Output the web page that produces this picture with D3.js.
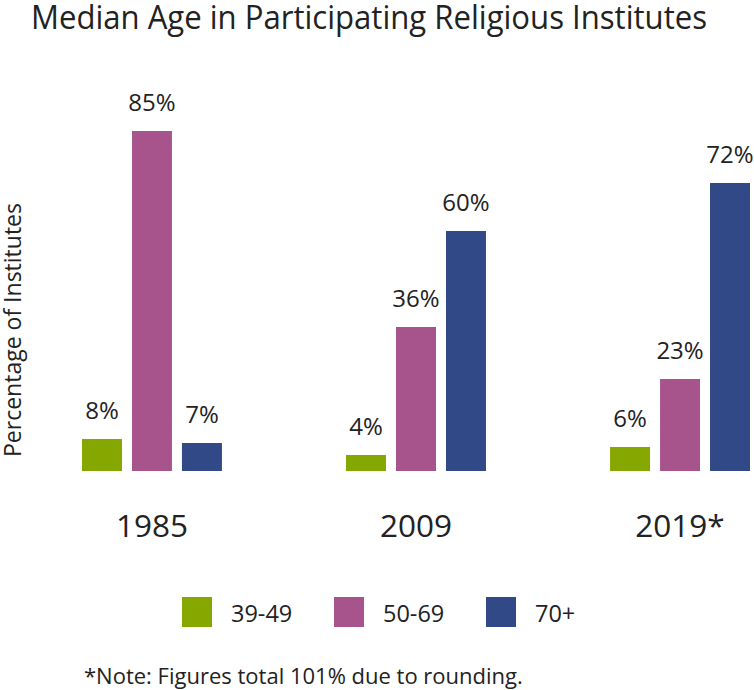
<!DOCTYPE html>
<html>
<head>
<meta charset="utf-8">
<script src="https://cdn.jsdelivr.net/npm/d3@7/dist/d3.min.js"></script>
<style>
  html, body { margin: 0; padding: 0; background: #fff; }
  svg { display: block; }
  text { font-family: "Open Sans", "Noto Sans", sans-serif; fill: #222; }
</style>
</head>
<body>
<svg id="chart" width="754" height="690"></svg>
<script>
const years = ["1985", "2009", "2019*"];
const seriesNames = ["39-49", "50-69", "70+"];
const values39_49 = [8, 4, 6];
const values50_69 = [85, 36, 23];
const values70plus = [7, 60, 72];
const colors = ["#86a600", "#a8548c", "#314a87"];
const titleText = "Median Age in Participating Religious Institutes";
const yLabel = "Percentage of Institutes";
const noteText = "*Note: Figures total 101% due to rounding.";

const seriesValues = [values39_49, values50_69, values70plus];
const data = years.map((yr, i) => ({
  year: yr,
  items: seriesNames.map((s, j) => ({ series: s, value: seriesValues[j][i] }))
}));

const svg = d3.select("#chart");

const x0 = d3.scaleBand().domain(years).range([82, 750]).paddingInner(0.47).paddingOuter(0);
const x1 = d3.scaleBand().domain(seriesNames).range([0, x0.bandwidth()]).paddingInner(0.2).paddingOuter(0);
const y = d3.scaleLinear().domain([0, 85]).range([471, 131]);
const color = d3.scaleOrdinal().domain(seriesNames).range(colors);

// Title
svg.append("text")
  .attr("x", 31).attr("y", 29)
  .attr("font-size", 33)
  .attr("textLength", 676)
  .attr("lengthAdjust", "spacingAndGlyphs")
  .text(titleText);

// Y label
svg.append("text")
  .attr("transform", "translate(21,330) rotate(-90)")
  .attr("text-anchor", "middle")
  .attr("font-size", 23)
  .text(yLabel);

const groups = svg.append("g").selectAll("g")
  .data(data).join("g")
  .attr("transform", d => `translate(${x0(d.year)},0)`);

groups.selectAll("rect")
  .data(d => d.items).join("rect")
  .attr("x", d => x1(d.series))
  .attr("y", d => y(d.value))
  .attr("width", x1.bandwidth())
  .attr("height", d => y(0) - y(d.value))
  .attr("fill", d => color(d.series));

groups.selectAll("text.val")
  .data(d => d.items).join("text")
  .attr("class", "val")
  .attr("x", d => x1(d.series) + x1.bandwidth() / 2)
  .attr("y", d => y(d.value) - 20)
  .attr("text-anchor", "middle")
  .attr("font-size", 24)
  .text(d => d.value + "%");

// X axis labels
const xAxis = d3.axisBottom(x0).tickSize(0).tickPadding(0);
const ax = svg.append("g").attr("transform", "translate(0,537)").call(xAxis);
ax.select(".domain").remove();
ax.selectAll("text")
  .attr("dy", 0).attr("y", 0)
  .attr("font-size", 31.5)
  .attr("fill", "#222")
  .style("font-family", "'Open Sans', sans-serif");

// Legend
const legend = svg.append("g").selectAll("g")
  .data(seriesNames).join("g")
  .attr("transform", (d, i) => `translate(${182 + i * 152},597)`);
legend.append("rect").attr("width", 30).attr("height", 30).attr("fill", d => color(d));
legend.append("text").attr("x", 49).attr("y", 25).attr("font-size", 23.5).text(d => d);

// Note
svg.append("text")
  .attr("x", 84).attr("y", 684)
  .attr("font-size", 22)
  .text(noteText);
</script>
</body>
</html>
